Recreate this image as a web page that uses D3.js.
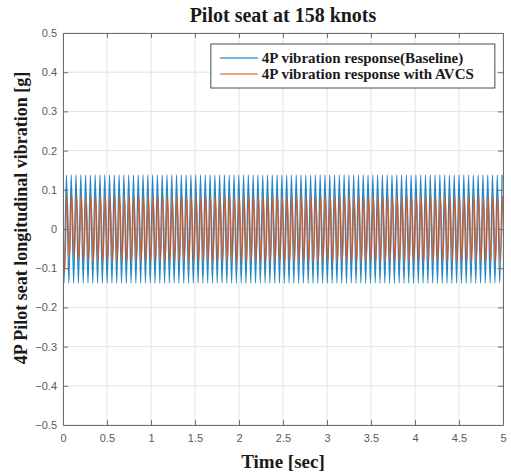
<!DOCTYPE html>
<html>
<head>
<meta charset="utf-8">
<script src="https://cdn.jsdelivr.net/npm/d3@7"></script>
<style>
  body { margin: 0; background: #fff; }
  svg { display: block; }
  .tick text { font-family: "Liberation Sans", Arial, sans-serif; font-size: 11px; fill: #5a5a5a; }
  .serif { font-family: "Liberation Serif", "Times New Roman", serif; font-weight: bold; fill: #1a1a1a; }
</style>
</head>
<body>
<svg id="chart" width="511" height="473"></svg>
<script>

// x range and ticks
var xTicks = [0, 0.5, 1, 1.5, 2, 2.5, 3, 3.5, 4, 4.5, 5];
var yTicks = [-0.5, -0.4, -0.3, -0.2, -0.1, 0, 0.1, 0.2, 0.3, 0.4, 0.5];

var seriesNames = ["4P vibration response(Baseline)", "4P vibration response with AVCS"];

// both signals oscillate at roughly 18.4 Hz; values below are the peaks / troughs
var halfPeriod = 0.0272;
var baselineFirstPeak = 0.012;
var avcsFirstPeak = 0.018;
var baselineStartValue = -0.10;
var avcsStartValue = -0.02;

var baselinePeaks = [
  -0.138, 0.138, -0.138, 0.138, -0.138, 0.138, -0.138, 0.138, -0.138, 0.138, -0.138, 0.138, -0.138, 0.138, -0.138, 0.138,
  -0.138, 0.138, -0.138, 0.138, -0.138, 0.138, -0.138, 0.138, -0.138, 0.138, -0.138, 0.138, -0.138, 0.138, -0.138, 0.138,
  -0.138, 0.138, -0.138, 0.138, -0.138, 0.138, -0.138, 0.138, -0.138, 0.138, -0.138, 0.138, -0.138, 0.138, -0.138, 0.138,
  -0.138, 0.138, -0.138, 0.138, -0.138, 0.138, -0.138, 0.138, -0.138, 0.138, -0.138, 0.138, -0.138, 0.138, -0.138, 0.138,
  -0.138, 0.138, -0.138, 0.138, -0.138, 0.138, -0.138, 0.138, -0.138, 0.138, -0.138, 0.138, -0.138, 0.138, -0.138, 0.138,
  -0.138, 0.138, -0.138, 0.138, -0.138, 0.138, -0.138, 0.138, -0.138, 0.138, -0.138, 0.138, -0.138, 0.138, -0.138, 0.138,
  -0.138, 0.138, -0.138, 0.138, -0.138, 0.138, -0.138, 0.138, -0.138, 0.138, -0.138, 0.138, -0.138, 0.138, -0.138, 0.138,
  -0.138, 0.138, -0.138, 0.138, -0.138, 0.138, -0.138, 0.138, -0.138, 0.138, -0.138, 0.138, -0.138, 0.138, -0.138, 0.138,
  -0.138, 0.138, -0.138, 0.138, -0.138, 0.138, -0.138, 0.138, -0.138, 0.138, -0.138, 0.138, -0.138, 0.138, -0.138, 0.138,
  -0.138, 0.138, -0.138, 0.138, -0.138, 0.138, -0.138, 0.138, -0.138, 0.138, -0.138, 0.138, -0.138, 0.138, -0.138, 0.138,
  -0.138, 0.138, -0.138, 0.138, -0.138, 0.138, -0.138, 0.138, -0.138, 0.138, -0.138, 0.138, -0.138, 0.138, -0.138, 0.138,
  -0.138, 0.138, -0.138, 0.138, -0.138, 0.138, -0.138, 0.138
];

var avcsPeaks = [
  -0.110, 0.090, -0.072, 0.088, -0.076, 0.087, -0.079, 0.086, -0.081, 0.085, -0.083, 0.084, -0.084, 0.084, -0.084, 0.084,
  -0.084, 0.084, -0.084, 0.084, -0.084, 0.084, -0.084, 0.084, -0.084, 0.084, -0.084, 0.084, -0.084, 0.084, -0.084, 0.084,
  -0.084, 0.084, -0.084, 0.084, -0.084, 0.084, -0.084, 0.084, -0.084, 0.084, -0.084, 0.084, -0.084, 0.084, -0.084, 0.084,
  -0.084, 0.084, -0.084, 0.084, -0.084, 0.084, -0.084, 0.084, -0.084, 0.084, -0.084, 0.084, -0.084, 0.084, -0.084, 0.084,
  -0.084, 0.084, -0.084, 0.084, -0.084, 0.084, -0.084, 0.084, -0.084, 0.084, -0.084, 0.084, -0.084, 0.084, -0.084, 0.084,
  -0.084, 0.084, -0.084, 0.084, -0.084, 0.084, -0.084, 0.084, -0.084, 0.084, -0.084, 0.084, -0.084, 0.084, -0.084, 0.084,
  -0.084, 0.084, -0.084, 0.084, -0.084, 0.084, -0.084, 0.084, -0.084, 0.084, -0.084, 0.084, -0.084, 0.084, -0.084, 0.084,
  -0.084, 0.084, -0.084, 0.084, -0.084, 0.084, -0.084, 0.084, -0.084, 0.084, -0.084, 0.084, -0.084, 0.084, -0.084, 0.084,
  -0.084, 0.084, -0.084, 0.084, -0.084, 0.084, -0.084, 0.084, -0.084, 0.084, -0.084, 0.084, -0.084, 0.084, -0.084, 0.084,
  -0.084, 0.084, -0.084, 0.084, -0.084, 0.084, -0.084, 0.084, -0.084, 0.084, -0.084, 0.084, -0.084, 0.084, -0.084, 0.084,
  -0.084, 0.084, -0.084, 0.084, -0.084, 0.084, -0.084, 0.084, -0.084, 0.084, -0.084, 0.084, -0.084, 0.084, -0.084, 0.084,
  -0.084, 0.084, -0.084, 0.084, -0.084, 0.084, -0.084, 0.084
];

var colors = ["#0072BD", "#D95319"];


function toPoints(startValue, firstPeak, peaks) {
    var pts = [{t: 0, v: startValue}];
    peaks.forEach(function(p, i) {
        pts.push({t: firstPeak + i * halfPeriod, v: p});
    });
    return pts;
}

var baseline = toPoints(baselineStartValue, baselineFirstPeak, baselinePeaks);
var avcs = toPoints(avcsStartValue, avcsFirstPeak, avcsPeaks);

var margin = {top: 33, right: 8, bottom: 48, left: 63};
var width = 511 - margin.left - margin.right;
var height = 473 - margin.top - margin.bottom;

var svg = d3.select("#chart");
var g = svg.append("g")
    .attr("transform", "translate(" + margin.left + "," + margin.top + ")");

var x = d3.scaleLinear().domain([0, 5]).range([0, width]);
var y = d3.scaleLinear().domain([-0.5, 0.5]).range([height, 0]);

// grid
g.append("g").selectAll("line").data(xTicks).enter().append("line")
    .attr("x1", function(d) { return x(d); })
    .attr("x2", function(d) { return x(d); })
    .attr("y1", 0).attr("y2", height)
    .attr("stroke", "#e3e3e3").attr("stroke-width", 1);
g.append("g").selectAll("line").data(yTicks).enter().append("line")
    .attr("y1", function(d) { return y(d); })
    .attr("y2", function(d) { return y(d); })
    .attr("x1", 0).attr("x2", width)
    .attr("stroke", "#e3e3e3").attr("stroke-width", 1);

g.append("clipPath").attr("id", "clip")
  .append("rect").attr("width", width).attr("height", height);

var line = d3.line()
    .x(function(d) { return x(d.t); })
    .y(function(d) { return y(d.v); })
    .curve(d3.curveMonotoneX);

var plot = g.append("g").attr("clip-path", "url(#clip)");
[baseline, avcs].forEach(function(s, i) {
    plot.append("path")
        .datum(s)
        .attr("fill", "none")
        .attr("stroke", colors[i])
        .attr("stroke-width", 1.3)
        .attr("stroke-opacity", 0.85)
        .attr("d", line);
});

// axes (ticks inside, box on)
var fmt = function(d) { return d3.format("")(d); };

function styleAxis(sel) {
    sel.select(".domain").attr("stroke", "#6e6e6e");
    sel.selectAll(".tick line").attr("stroke", "#6e6e6e");
}

g.append("g")
    .attr("transform", "translate(0," + height + ")")
    .call(d3.axisBottom(x).tickValues(xTicks).tickFormat(fmt).tickSize(-5).tickSizeOuter(0).tickPadding(9))
    .call(styleAxis);
g.append("g")
    .call(d3.axisLeft(y).tickValues(yTicks).tickFormat(fmt).tickSize(-5).tickSizeOuter(0).tickPadding(6))
    .call(styleAxis);
g.append("g")
    .call(d3.axisTop(x).tickValues(xTicks).tickFormat("").tickSize(-5).tickSizeOuter(0))
    .call(styleAxis);
g.append("g")
    .attr("transform", "translate(" + width + ",0)")
    .call(d3.axisRight(y).tickValues(yTicks).tickFormat("").tickSize(-5).tickSizeOuter(0))
    .call(styleAxis);

// titles
svg.append("text")
    .attr("class", "serif")
    .attr("x", margin.left + width / 2)
    .attr("y", 22)
    .attr("text-anchor", "middle")
    .style("font-size", "20px")
    .text("Pilot seat at 158 knots");

svg.append("text")
    .attr("class", "serif")
    .attr("x", margin.left + width / 2)
    .attr("y", 468)
    .attr("text-anchor", "middle")
    .style("font-size", "19px")
    .text("Time [sec]");

svg.append("text")
    .attr("class", "serif")
    .attr("transform", "translate(27," + (margin.top + height / 2 - 11) + ")rotate(-90)")
    .attr("text-anchor", "middle")
    .style("font-size", "18px")
    .text("4P Pilot seat longitudinal vibration [g]");

// legend
var legend = g.append("g").attr("transform", "translate(" + (x(1.68)) + "," + 11 + ")");
legend.append("rect")
    .attr("width", 284).attr("height", 44)
    .attr("fill", "#fff").attr("stroke", "#4a4a4a").attr("stroke-width", 1);
seriesNames.forEach(function(name, i) {
    var row = legend.append("g").attr("transform", "translate(0," + (14 + i * 16) + ")");
    row.append("line")
        .attr("x1", 9).attr("x2", 47)
        .attr("stroke", colors[i]).attr("stroke-width", 1.3).attr("stroke-opacity", 0.7);
    row.append("text")
        .attr("class", "serif")
        .attr("x", 51).attr("y", 5)
        .style("font-size", "15px")
        .text(name);
});

</script>
</body>
</html>
